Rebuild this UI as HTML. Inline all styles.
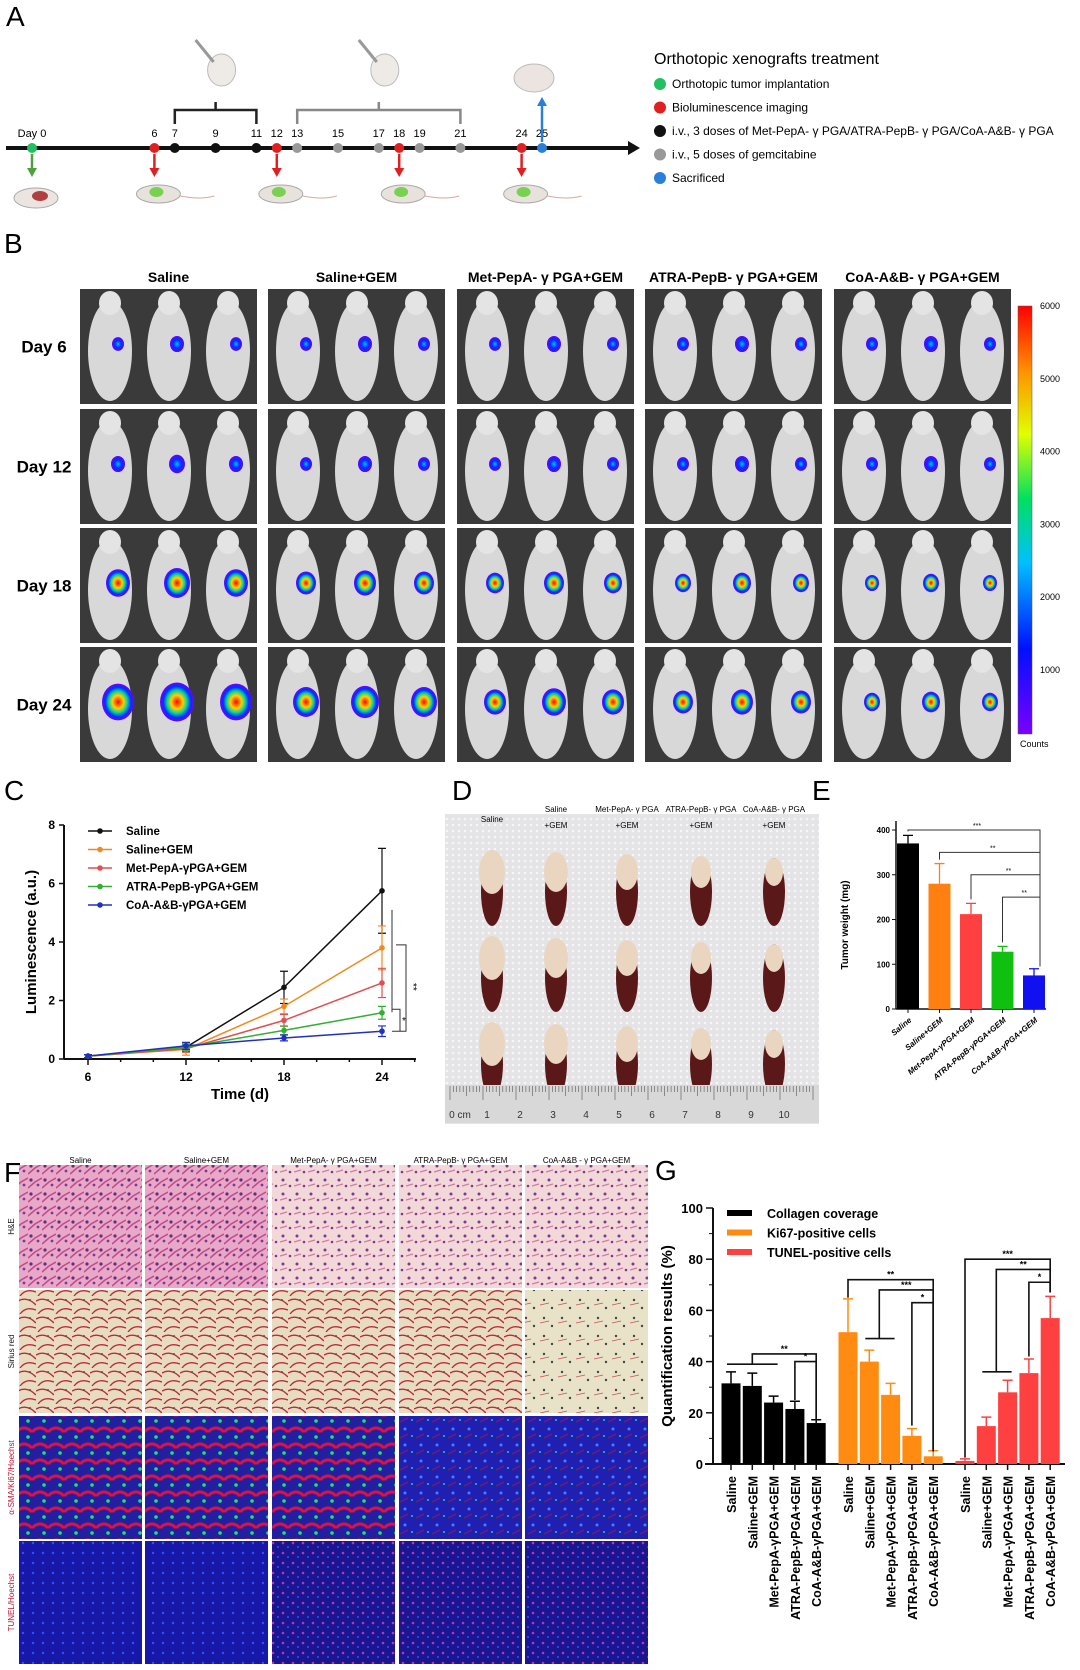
<!DOCTYPE html>
<html><head><meta charset="utf-8"><style>
html,body{margin:0;padding:0;background:#fff;}
svg{display:block;font-family:"Liberation Sans",sans-serif;}
</style></head><body>
<svg id="fig" width="1080" height="1670" viewBox="0 0 1080 1670" xmlns="http://www.w3.org/2000/svg">
<defs>
<linearGradient id="cbar" x1="0" y1="1" x2="0" y2="0">
<stop offset="0" stop-color="#7a00ff"/><stop offset="0.2" stop-color="#0010ff"/><stop offset="0.4" stop-color="#00c0ff"/><stop offset="0.55" stop-color="#00e060"/><stop offset="0.7" stop-color="#e0ff00"/><stop offset="0.85" stop-color="#ff9000"/><stop offset="1" stop-color="#ff0000"/></linearGradient>
<radialGradient id="blob"><stop offset="0" stop-color="#ff0000"/><stop offset="0.35" stop-color="#ffd000"/><stop offset="0.6" stop-color="#00d0a0"/><stop offset="0.8" stop-color="#0030ff"/><stop offset="1" stop-color="#7000ff"/></radialGradient>
<radialGradient id="blobS"><stop offset="0" stop-color="#00c0ff"/><stop offset="0.5" stop-color="#0030ff"/><stop offset="1" stop-color="#6000ff"/></radialGradient>
<pattern id="he" width="14" height="14" patternUnits="userSpaceOnUse"><rect width="14" height="14" fill="#e8a8c8"/><circle cx="3" cy="4" r="1.6" fill="#6a2a80"/><circle cx="10" cy="9" r="1.4" fill="#7a3a90"/><path d="M0 12 L7 6 L14 2" stroke="#c24a8a" stroke-width="1.5" fill="none"/></pattern>
<pattern id="heL" width="14" height="14" patternUnits="userSpaceOnUse"><rect width="14" height="14" fill="#f2d8d8"/><circle cx="3" cy="4" r="1.5" fill="#7a3a90"/><circle cx="10" cy="10" r="1.3" fill="#7a3a90"/><path d="M0 10 L7 8" stroke="#d07aa0" stroke-width="1.2"/></pattern>
<pattern id="sr" width="18" height="18" patternUnits="userSpaceOnUse"><rect width="18" height="18" fill="#e8dcc0"/><path d="M0 5 Q9 0 18 9 M2 18 Q8 10 18 14" stroke="#c0283a" stroke-width="1.4" fill="none"/><circle cx="12" cy="4" r="1" fill="#555"/></pattern>
<pattern id="srL" width="18" height="18" patternUnits="userSpaceOnUse"><rect width="18" height="18" fill="#e8e2c8"/><circle cx="4" cy="4" r="1.2" fill="#444"/><circle cx="12" cy="12" r="1.2" fill="#444"/><path d="M0 9 L9 7" stroke="#c8505a" stroke-width="0.8"/></pattern>
<pattern id="if1" width="16" height="16" patternUnits="userSpaceOnUse"><rect width="16" height="16" fill="#2020a0"/><path d="M0 8 Q8 0 16 8" stroke="#e01040" stroke-width="3" fill="none"/><circle cx="12" cy="13" r="1.8" fill="#20e070"/></pattern>
<pattern id="if2" width="16" height="16" patternUnits="userSpaceOnUse"><rect width="16" height="16" fill="#2020b0"/><circle cx="5" cy="5" r="1.5" fill="#4080ff"/><circle cx="12" cy="12" r="1" fill="#30c0c0"/><path d="M0 14 L8 10" stroke="#a01050" stroke-width="1"/></pattern>
<pattern id="tu1" width="10" height="10" patternUnits="userSpaceOnUse"><rect width="10" height="10" fill="#1818a8"/><circle cx="3" cy="3" r="1.2" fill="#3050ff"/></pattern>
<pattern id="tu2" width="10" height="10" patternUnits="userSpaceOnUse"><rect width="10" height="10" fill="#1a1690"/><circle cx="3" cy="3" r="1.3" fill="#c030c0"/><circle cx="8" cy="7" r="1" fill="#3050ff"/></pattern>
<pattern id="gauze" width="6" height="6" patternUnits="userSpaceOnUse"><rect width="6" height="6" fill="#e4e4e6"/><circle cx="3" cy="3" r="1.3" fill="#f6f6f8"/></pattern>
</defs>
<g id="panelA"></g>
<g id="panelB"></g>
<g id="panelC"></g>
<g id="panelD"></g>
<g id="panelE"></g>
<g id="panelF"></g>
<g id="panelG"></g>
</svg>
<script>
// ---------- data ----------
const timelineDays = [0,6,7,9,11,12,13,15,17,18,19,21,24,25];
const timelineTypes = ["g","r","k","k","k","r","s","s","s","r","s","s","r","b"];
const groups = ["Saline","Saline+GEM","Met-PepA-\u03b3PGA+GEM","ATRA-PepB-\u03b3PGA+GEM","CoA-A&B-\u03b3PGA+GEM"];
const lumDays = [6,12,18,24];
const lumSaline = [0.1,0.4,2.45,5.75];
const lumSalineGem = [0.1,0.33,1.8,3.8];
const lumMet = [0.1,0.35,1.32,2.6];
const lumAtra = [0.1,0.4,0.98,1.58];
const lumCoa = [0.1,0.45,0.72,0.95];
const lumErrSaline = [0.05,0.15,0.55,1.45];
const lumErrSalineGem = [0.05,0.2,0.25,0.75];
const lumErrMet = [0.05,0.12,0.2,0.5];
const lumErrAtra = [0.05,0.1,0.15,0.22];
const lumErrCoa = [0.05,0.12,0.1,0.18];
const lumYTicks = [0,2,4,6,8];
const weightValues = [370,280,212,128,75];
const weightErr = [18,45,24,12,15];
const weightTicks = [0,100,200,300,400];
const collagen = [31.5,30.5,24,21.5,16];
const collagenErr = [4.5,5,2.5,3,1.3];
const ki67 = [51.5,40,27,11,3];
const ki67Err = [13,4.5,4.5,2.8,2.2];
const tunel = [1.2,14.8,28,35.5,57];
const tunelErr = [0.8,3.5,4.7,5.5,8.5];
const quantTicks = [0,20,40,60,80,100];

const NS="http://www.w3.org/2000/svg";
function mk(parent,tag,attrs,text){const e=document.createElementNS(NS,tag);for(const k in attrs)e.setAttribute(k,attrs[k]);if(text!==undefined)e.textContent=text;parent.appendChild(e);return e;}

// ---------- Panel A ----------
const A=document.getElementById('panelA');
let t=mk(A,'text',{x:6,y:26,'font-size':28});t.textContent='A';


const dayX=d=>32+d*20.4;
let ax=mk(A,'line',{x1:6,y1:148,x2:628,y2:148,stroke:'#111','stroke-width':4});


mk(A,'polygon',{points:'628,141 640,148 628,155',fill:'#111'});
mk(A,'path',{d:`M${dayX(7)} 124 V110 H${dayX(11)} V124 M${dayX(9)} 110 V102`,stroke:'#222','stroke-width':2.5,fill:'none'});
mk(A,'path',{d:`M${dayX(13)} 124 V110 H${dayX(21)} V124 M${dayX(17)} 110 V102`,stroke:'#888','stroke-width':2.5,fill:'none'});
const colMap={g:'#22c060',r:'#e02020',k:'#111',s:'#999',b:'#2a80d8'};
timelineDays.forEach((d,i)=>{
 const x=dayX(d);
 const c=mk(A,'circle',{cx:x,cy:148,r:5,fill:colMap[timelineTypes[i]]});
 
 
 const lb=mk(A,'text',{x:x,y:137,'font-size':11,'text-anchor':'middle'},d===0?'Day 0':d);
 
 
 if(timelineTypes[i]==='r'){mk(A,'line',{x1:x,y1:154,x2:x,y2:170,stroke:'#e02020','stroke-width':2.5});mk(A,'polygon',{points:`${x-5},168 ${x+5},168 ${x},177`,fill:'#e02020'});
  mk(A,'ellipse',{cx:x+4,cy:194,rx:22,ry:9,fill:'#e8e2dc',stroke:'#aaa'});mk(A,'ellipse',{cx:x+2,cy:192,rx:7,ry:5,fill:'#7ad050'});mk(A,'path',{d:`M${x+26} 196 q20 4 34 0`,stroke:'#d8a8a0',fill:'none'});}
});
mk(A,'line',{x1:dayX(0),y1:154,x2:dayX(0),y2:170,stroke:'#50a040','stroke-width':2.5});mk(A,'polygon',{points:`${dayX(0)-5},168 ${dayX(0)+5},168 ${dayX(0)},177`,fill:'#50a040'});
mk(A,'ellipse',{cx:36,cy:198,rx:22,ry:10,fill:'#ece4e0',stroke:'#aaa'});mk(A,'ellipse',{cx:40,cy:196,rx:8,ry:5,fill:'#b04040'});
mk(A,'line',{x1:dayX(25),y1:142,x2:dayX(25),y2:104,stroke:'#2a80d8','stroke-width':2.5});mk(A,'polygon',{points:`${dayX(25)-5},106 ${dayX(25)+5},106 ${dayX(25)},97`,fill:'#2a80d8'});
mk(A,'ellipse',{cx:dayX(25)-8,cy:78,rx:20,ry:14,fill:'#ece4e0',stroke:'#bbb'});
[[dayX(9),70],[dayX(17),70]].forEach(p=>{mk(A,'ellipse',{cx:p[0]+6,cy:p[1],rx:14,ry:16,fill:'#eeeae6',stroke:'#bbb'});mk(A,'line',{x1:p[0]-20,y1:p[1]-30,x2:p[0]-2,y2:p[1]-8,stroke:'#999','stroke-width':3});});
mk(A,'text',{x:654,y:64,'font-size':16},'Orthotopic  xenografts treatment');
const legA=[['#22c060','Orthotopic tumor implantation'],['#e02020','Bioluminescence imaging'],['#111','i.v., 3 doses of Met-PepA- \u03b3 PGA/ATRA-PepB- \u03b3 PGA/CoA-A&B- \u03b3 PGA'],['#999','i.v., 5 doses of gemcitabine'],['#2a80d8','Sacrificed']];
legA.forEach((l,i)=>{const y=84+i*23.5;const c=mk(A,'circle',{cx:660,cy:y,r:6,fill:l[0]});const tx=mk(A,'text',{x:672,y:y+4,'font-size':12},l[1]);});

// ---------- Panel B ----------
const B=document.getElementById('panelB');
mk(B,'text',{x:4,y:253,'font-size':28},'B');
const bCols=[80,268,457,645,834], bW=177;
const bRows=[289,409,528,647], bH=115;
const bTitles=['Saline','Saline+GEM','Met-PepA- \u03b3 PGA+GEM','ATRA-PepB- \u03b3 PGA+GEM','CoA-A&B- \u03b3 PGA+GEM'];
const bDays=['Day 6','Day 12','Day 18','Day 24'];
const blobSize=[[6,6,6,6,6],[7,6,6,6,6],[12,10,9,8,7],[16,13,11,10,8]];
bTitles.forEach((tt,c)=>{const tx=mk(B,'text',{x:bCols[c]+bW/2,y:282,'font-size':14,'font-weight':'bold','text-anchor':'middle'},tt);});
bDays.forEach((d,r)=>{const tx=mk(B,'text',{x:44,y:bRows[r]+bH/2+6,'font-size':17,'font-weight':'bold','text-anchor':'middle'},d);
 bCols.forEach((x,c)=>{const y=bRows[r];
  const rc=mk(B,'rect',{x:x,y:y,width:bW,height:bH,fill:'#3a3a3a'});
  for(let m=0;m<3;m++){const mx=x+30+m*59;mk(B,'ellipse',{cx:mx,cy:y+62,rx:22,ry:50,fill:'#d8d8d8'});mk(B,'ellipse',{cx:mx,cy:y+14,rx:11,ry:12,fill:'#e4e4e4'});
   const s=blobSize[r][c]+(m===1?1:0);mk(B,'ellipse',{cx:mx+8,cy:y+55,rx:s,ry:s*1.15,fill:r<2?'url(#blobS)':'url(#blob)'});}
 });});
const cb=mk(B,'rect',{x:1018,y:306,width:14,height:428,fill:'url(#cbar)',stroke:'#555','stroke-width':0.5});
['6000','5000','4000','3000','2000','1000'].forEach((v,i)=>mk(B,'text',{x:1040,y:306+i*72.8+3,'font-size':9},v));
mk(B,'text',{x:1020,y:747,'font-size':9},'Counts');

// ---------- Panel C ----------
const C=document.getElementById('panelC');
mk(C,'text',{x:4,y:800,'font-size':28},'C');
const cx0=64,cy0=1059,cy8=825;
const xC=d=>88+(d-6)*(382-88)/18;
const yC=v=>cy0-(v/8)*(cy0-cy8);
mk(C,'line',{x1:cx0,y1:cy8,x2:cx0,y2:cy0,stroke:'#111','stroke-width':2});
mk(C,'line',{x1:cx0,y1:cy0,x2:416,y2:cy0,stroke:'#111','stroke-width':2});
lumYTicks.forEach(v=>{mk(C,'line',{x1:cx0-5,y1:yC(v),x2:cx0,y2:yC(v),stroke:'#111','stroke-width':1.5});const tx=mk(C,'text',{x:cx0-9,y:yC(v)+4,'font-size':12,'font-weight':'bold','text-anchor':'end'},v);});
for(let d=6;d<=27;d+=2){mk(C,'line',{x1:xC(d),y1:cy0,x2:xC(d),y2:cy0+(lumDays.includes(d)?6:3),stroke:'#111','stroke-width':1.5});}
lumDays.forEach(d=>{const tx=mk(C,'text',{x:xC(d),y:cy0+22,'font-size':12,'font-weight':'bold','text-anchor':'middle'},d);});
let xt=mk(C,'text',{x:240,y:1099,'font-size':15,'font-weight':'bold','text-anchor':'middle'},'Time (d)');
let yt=mk(C,'text',{x:0,y:0,'font-size':15,'font-weight':'bold','text-anchor':'middle',transform:`translate(36,942) rotate(-90)`},'Luminescence (a.u.)');
const series=[[lumSaline,lumErrSaline,'#111','Saline'],[lumSalineGem,lumErrSalineGem,'#f08a20','Saline+GEM'],[lumMet,lumErrMet,'#e05050','Met-PepA-\u03b3PGA+GEM'],[lumAtra,lumErrAtra,'#30b030','ATRA-PepB-\u03b3PGA+GEM'],[lumCoa,lumErrCoa,'#2030c0','CoA-A&B-\u03b3PGA+GEM']];
series.forEach((s,si)=>{
 const g=mk(C,'g',{});
 mk(g,'polyline',{points:lumDays.map((d,i)=>xC(d)+','+yC(s[0][i])).join(' '),fill:'none',stroke:s[2],'stroke-width':1.5});
 lumDays.forEach((d,i)=>{const x=xC(d);mk(g,'path',{d:`M${x} ${yC(s[0][i]-s[1][i])} V${yC(s[0][i]+s[1][i])} M${x-4} ${yC(s[0][i]+s[1][i])} h8 M${x-4} ${yC(s[0][i]-s[1][i])} h8`,stroke:s[2],'stroke-width':1.2});
  const p=mk(g,'circle',{cx:x,cy:yC(s[0][i]),r:2.8,fill:s[2]});});
 const ly=831+si*18.5;const le=mk(C,'g',{});
 mk(le,'line',{x1:88,y1:ly,x2:112,y2:ly,stroke:s[2],'stroke-width':1.5});mk(le,'circle',{cx:100,cy:ly,r:2.8,fill:s[2]});
 mk(le,'text',{x:126,y:ly+4,'font-size':11.5,'font-weight':'bold'},s[3]);
});
mk(C,'path',{d:`M392 ${yC(5.1)} V${yC(1.6)} M396 ${yC(3.9)} h10 V${yC(0.95)} h-10 M392 ${yC(1.7)} h8 V${yC(0.95)} h-8`,stroke:'#333','stroke-width':1,fill:'none'});
mk(C,'text',{x:0,y:0,'font-size':10,transform:`translate(410,${yC(2.6)}) rotate(90)`},'**');
mk(C,'text',{x:402,y:yC(1.2),'font-size':10},'*');

// ---------- Panel D ----------
const D=document.getElementById('panelD');
mk(D,'text',{x:452,y:800,'font-size':28},'D');
const ph=mk(D,'rect',{x:445,y:814,width:374,height:310,fill:'url(#gauze)'});
const dLab=[['Saline',''],['Saline','+GEM'],['Met-PepA- \u03b3 PGA','+GEM'],['ATRA-PepB- \u03b3 PGA','+GEM'],['CoA-A&B- \u03b3 PGA','+GEM']];
const dX=[492,556,627,701,774];
dLab.forEach((l,i)=>{mk(D,'text',{x:dX[i],y:l[1]?812:822,'font-size':8,'text-anchor':'middle'},l[0]);if(l[1])mk(D,'text',{x:dX[i],y:828,'font-size':8,'text-anchor':'middle'},l[1]);});
for(let r=0;r<3;r++)dX.forEach((x,i)=>{const y=880+r*86;const tg=mk(D,'g',{});
 mk(tg,'ellipse',{cx:x,cy:y+12,rx:11,ry:34,fill:'#5a1818'});mk(tg,'ellipse',{cx:x,cy:y-8,rx:13-i,ry:22-i*2,fill:'#ead6c0'});});
mk(D,'rect',{x:445,y:1085,width:374,height:38,fill:'#d8d8d8'});
for(let k=0;k<=110;k++){const x=450+k*3.3;mk(D,'line',{x1:x,y1:1086,x2:x,y2:1086+(k%10===0?14:k%5===0?10:6),stroke:'#555','stroke-width':0.6});}
for(let k=0;k<=10;k++)mk(D,'text',{x:454+k*33+(k===0?6:0),y:1118,'font-size':10,fill:'#333','text-anchor':'middle'},k===0?'0 cm':k);

// ---------- Panel E ----------
const E=document.getElementById('panelE');
mk(E,'text',{x:812,y:800,'font-size':28},'E');
const ex0=896,ey0=1009,ey400=830;
const yE=v=>ey0-v/400*(ey0-ey400);
const xE=i=>908+i*31.5;
const eCol=['#000','#ff8010','#ff4040','#10c010','#1010f0'];
mk(E,'line',{x1:ex0,y1:yE(420),x2:ex0,y2:ey0,stroke:'#111','stroke-width':1.5});
mk(E,'line',{x1:ex0,y1:ey0,x2:1046,y2:ey0,stroke:'#111','stroke-width':1.5});
weightTicks.forEach(v=>{mk(E,'line',{x1:ex0-4,y1:yE(v),x2:ex0,y2:yE(v),stroke:'#111'});const tx=mk(E,'text',{x:ex0-6,y:yE(v)+3,'font-size':8,'font-weight':'bold','text-anchor':'end'},v);});
mk(E,'text',{x:0,y:0,'font-size':10,'font-weight':'bold','text-anchor':'middle',transform:'translate(848,925) rotate(-90)'},'Tumor weight (mg)');
weightValues.forEach((v,i)=>{const x=xE(i);mk(E,'path',{d:`M${x} ${yE(v)} V${yE(v+weightErr[i])} M${x-5} ${yE(v+weightErr[i])} h10`,stroke:eCol[i],'stroke-width':1.3});
 const b=mk(E,'rect',{x:x-11,y:yE(v),width:22,height:ey0-yE(v),fill:eCol[i]});
 mk(E,'line',{x1:x,y1:ey0,x2:x,y2:ey0+4,stroke:'#111'});
 const lb=mk(E,'text',{x:0,y:0,'font-size':8,'font-weight':'bold','font-style':'italic','text-anchor':'end',transform:`translate(${x+4},${ey0+12}) rotate(-40)`},groups[i]);});
[[0,yE(400),'***'],[1,yE(350),'**'],[2,yE(300),'**'],[3,yE(250),'**']].forEach(s=>{const x=xE(s[0]);mk(E,'path',{d:`M${x} ${yE(weightValues[s[0]]+weightErr[s[0]])-4} V${s[1]} H${xE(4)+6} V${yE(95)}`,stroke:'#333','stroke-width':1,fill:'none'});mk(E,'text',{x:(x+xE(4))/2+6,y:s[1]-2,'font-size':7,'text-anchor':'middle'},s[2]);});

// ---------- Panel F ----------
const F=document.getElementById('panelF');
mk(F,'text',{x:4,y:1182,'font-size':28},'F');
const fCols=[19,145,272,399,525],fW=123,fRows=[1165,1290,1416,1541],fH=123;
const fFills=[['url(#he)','url(#he)','url(#heL)','url(#heL)','url(#heL)'],['url(#sr)','url(#sr)','url(#sr)','url(#sr)','url(#srL)'],['url(#if1)','url(#if1)','url(#if1)','url(#if2)','url(#if2)'],['url(#tu1)','url(#tu1)','url(#tu2)','url(#tu2)','url(#tu2)']];
const fTitles=['Saline','Saline+GEM','Met-PepA- \u03b3 PGA+GEM','ATRA-PepB- \u03b3 PGA+GEM','CoA-A&B - \u03b3 PGA+GEM'];
fTitles.forEach((tt,i)=>mk(F,'text',{x:fCols[i]+fW/2,y:1163,'font-size':8,'text-anchor':'middle'},tt));
const fRowLab=['H&E','Sirius red','\u03b1-SMA/Ki67/Hoechst','TUNEL/Hoechst'];
fRows.forEach((y,r)=>{mk(F,'text',{x:0,y:0,'font-size':8,'text-anchor':'middle',fill:r===2?'#c01030':r===3?'#c01030':'#111',transform:`translate(14,${y+fH/2}) rotate(-90)`},fRowLab[r]);
 fCols.forEach((x,c)=>{const rc=mk(F,'rect',{x:x,y:y,width:fW,height:fH,fill:fFills[r][c]});});});

// ---------- Panel G ----------
const G=document.getElementById('panelG');
mk(G,'text',{x:655,y:1180,'font-size':28},'G');
const gx0=713,gy0=1464,gy100=1208;
const yG=v=>gy0-v/100*(gy0-gy100);
const xG=(g,i)=>731+g*117+i*21.3;
const gCol=['#000','#ff8c10','#ff4040'];
mk(G,'line',{x1:gx0,y1:gy100,x2:gx0,y2:gy0,stroke:'#111','stroke-width':2});
mk(G,'line',{x1:gx0-8,y1:gy0,x2:1065,y2:gy0,stroke:'#111','stroke-width':2});
quantTicks.forEach(v=>{mk(G,'line',{x1:gx0-7,y1:yG(v),x2:gx0,y2:yG(v),stroke:'#111','stroke-width':1.5});if(v<100)mk(G,'line',{x1:gx0-4,y1:yG(v+10),x2:gx0,y2:yG(v+10),stroke:'#111'});const tx=mk(G,'text',{x:gx0-10,y:yG(v)+5,'font-size':13,'font-weight':'bold','text-anchor':'end'},v);});
mk(G,'text',{x:0,y:0,'font-size':15,'font-weight':'bold','text-anchor':'middle',transform:'translate(672,1336) rotate(-90)'},'Quantification results (%)');
[[collagen,collagenErr],[ki67,ki67Err],[tunel,tunelErr]].forEach((s,g)=>{
 s[0].forEach((v,i)=>{const x=xG(g,i);const e=s[1][i];mk(G,'path',{d:`M${x} ${yG(v)} V${yG(v+e)} M${x-5} ${yG(v+e)} h10`,stroke:gCol[g],'stroke-width':1.5});
  const b=mk(G,'rect',{x:x-9.5,y:yG(v),width:19,height:gy0-yG(v),fill:gCol[g]});
  mk(G,'line',{x1:x,y1:gy0,x2:x,y2:gy0+6,stroke:'#111','stroke-width':1.5});
  const lb=mk(G,'text',{x:0,y:0,'font-size':12.5,'font-weight':'bold','text-anchor':'end',transform:`translate(${x+5},${gy0+12}) rotate(-90)`},groups[i].replace(/\u03b3/g,'\u03b3'));});
});
[['#000','Collagen coverage'],['#ff8c10','Ki67-positive cells'],['#ff4040','TUNEL-positive cells']].forEach((l,i)=>{const y=1213+i*19.5;const le=mk(G,'g',{});mk(le,'rect',{x:727,y:y-3,width:25,height:6,fill:l[0]});mk(le,'text',{x:767,y:y+5,'font-size':12.5,'font-weight':'bold'},l[1]);});
// significance brackets
function br(x1,y1,x2,yT,yEnd,lab){mk(G,'path',{d:`M${x1} ${y1} V${yT} H${x2} V${yEnd}`,stroke:'#111','stroke-width':1.6,fill:'none'});mk(G,'text',{x:(x1+x2)/2,y:yT-2,'font-size':9,'font-weight':'bold','text-anchor':'middle'},lab);}
mk(G,'path',{d:`M${xG(0,0)-4} ${yG(39)} H${xG(0,2)+4}`,stroke:'#111','stroke-width':1.6});
br(xG(0,1),yG(39),xG(0,4),yG(43),yG(17),'**');br(xG(0,3),yG(25),xG(0,4),yG(40),yG(17),'*');
mk(G,'path',{d:`M${xG(1,1)-4} ${yG(49)} H${xG(1,2)+4}`,stroke:'#111','stroke-width':1.6});
br(xG(1,0),yG(65),xG(1,4),yG(72),yG(5),'**');br(xG(1,1)+10,yG(49),xG(1,4),yG(68),yG(5),'***');br(xG(1,3),yG(15),xG(1,4),yG(63),yG(5),'*');
mk(G,'path',{d:`M${xG(2,1)-4} ${yG(36)} H${xG(2,2)+4}`,stroke:'#111','stroke-width':1.6});
br(xG(2,0),yG(2.5),xG(2,4),yG(80),yG(67),'***');br(xG(2,1)+10,yG(36),xG(2,4),yG(76),yG(67),'**');br(xG(2,3),yG(42),xG(2,4),yG(71),yG(67),'*');
</script>
</body></html>
